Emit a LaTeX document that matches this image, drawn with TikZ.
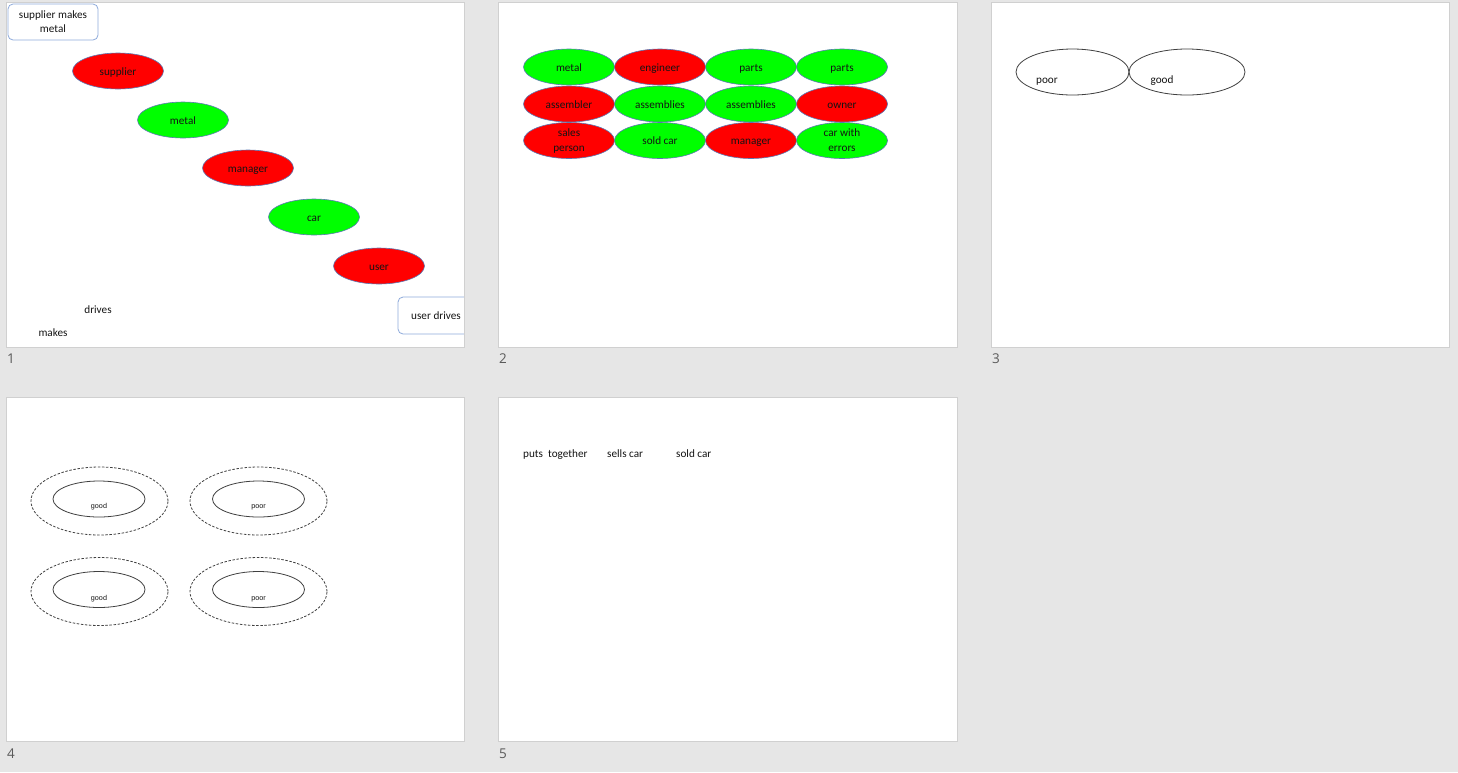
\documentclass[tikz,border=0pt]{standalone}
\usepackage{fontspec}
\setmainfont{Carlito}
\newfontfamily\arialfont{Liberation Sans}
\newfontfamily\numfont{Open Sans}
\usetikzlibrary{shapes.geometric}
\definecolor{bggray}{HTML}{E6E6E6}
\definecolor{slideedge}{HTML}{D0D0D0}
\definecolor{ellborder}{HTML}{5A78B4}
\definecolor{boxborder}{HTML}{8EAADB}
\definecolor{pptred}{HTML}{FF0000}
\definecolor{pptgreen}{HTML}{00FF00}
\definecolor{txtdark}{HTML}{141414}
\definecolor{numgray}{HTML}{5A5A5A}
\definecolor{lineg}{HTML}{404040}
\tikzset{
  slide/.style={draw=slideedge, line width=0.8pt, fill=white},
  oneline/.style={text height=10pt, text depth=1.2pt},
  ovl/.style={ellipse, draw=ellborder, line width=0.6pt, minimum width=91pt, minimum height=36pt, inner sep=0pt, font=\fontsize{11.2}{14.5}\selectfont, text=txtdark, align=center},
  redov/.style={ovl, fill=pptred},
  greenov/.style={ovl, fill=pptgreen},
  rbox/.style={draw=boxborder, line width=0.8pt, rounded corners=5pt, fill=white, inner sep=0pt, font=\fontsize{11.2}{14.5}\selectfont, text=txtdark, align=center},
  txt/.style={inner sep=0pt, font=\fontsize{11.2}{13}\selectfont, text=txtdark, oneline},
  snum/.style={inner sep=0pt, font=\numfont\fontsize{13.5}{14}\selectfont, text=numgray, anchor=west, text height=10pt, text depth=0pt},
  plainov/.style={ellipse, draw=lineg, line width=0.8pt, inner sep=0pt},
  dashov/.style={ellipse, draw=lineg, line width=0.8pt, inner sep=0pt, dash pattern=on 2.5pt off 1.6pt},
  smalltxt/.style={inner sep=0pt, font=\arialfont\fontsize{7.2}{8}\selectfont, text=txtdark, text height=8pt, text depth=0.4pt},
}
\begin{document}
\begin{tikzpicture}[x=1pt, y=-1pt]
\fill[bggray] (0,0) rectangle (1458,772);
\useasboundingbox (0,0) rectangle (1458,772);
% slides
\draw[slide] (6,2) rectangle (464,347);
\draw[slide] (498,2) rectangle (957,347);
\draw[slide] (991,2) rectangle (1449,347);
\draw[slide] (6,397) rectangle (464,741);
\draw[slide] (498,397) rectangle (957,741);
% slide numbers
\node[snum] (n1) at (7,358.5) {1};
\node[snum] (n2) at (499,358.5) {2};
\node[snum] (n3) at (992,358.5) {3};
\node[snum] (n4) at (7,753.5) {4};
\node[snum] (n5) at (499,753.5) {5};
% ---------- slide 1
\node[rbox, minimum width=90pt, minimum height=36pt, text depth=1pt] (s1box) at (53,22) {supplier makes\\metal};
\node[redov, oneline] (s1supplier) at (118,71) {supplier};
\node[greenov, oneline] (s1metal) at (183,120) {metal};
\node[redov, oneline] (s1manager) at (248,168) {manager};
\node[greenov, oneline] (s1car) at (314,217) {car};
\node[redov, oneline] (s1user) at (379,266) {user};
\node[txt] (s1drives) at (98,309) {drives};
\node[txt] (s1makes) at (53,332) {makes};
\begin{scope}
\clip (6,2) rectangle (464,347);
\node[rbox, oneline, minimum width=76pt, minimum height=37pt] (s1userbox) at (436,315.5) {user drives};
\end{scope}
\draw[slideedge, line width=0.8pt] (464,2) -- (464,347);
% ---------- slide 2
\node[greenov, oneline] (a1) at (569,67) {metal};
\node[redov, oneline] (a2) at (660,67) {engineer};
\node[greenov, oneline] (a3) at (751,67) {parts};
\node[greenov, oneline] (a4) at (842,67) {parts};
\node[redov, oneline] (b1) at (569,104) {assembler};
\node[greenov, oneline] (b2) at (660,104) {assemblies};
\node[greenov, oneline] (b3) at (751,104) {assemblies};
\node[redov, oneline] (b4) at (842,104) {owner};
\node[redov, text depth=1pt] (c1) at (569,140.5) {sales\\person};
\node[greenov, oneline] (c2) at (660,140.5) {sold car};
\node[redov, oneline] (c3) at (751,140.5) {manager};
\node[greenov, text depth=1pt] (c4) at (842,140.5) {car with\\errors};
% ---------- slide 3
\node[plainov, minimum width=113pt, minimum height=46pt] (s3poor) at (1072.5,72) {};
\node[plainov, minimum width=116pt, minimum height=46pt] (s3good) at (1187,72) {};
\node[txt] (s3poort) at (1047,79) {poor};
\node[txt] (s3goodt) at (1162,79) {good};
% ---------- slide 4
\node[dashov, minimum width=137pt, minimum height=68pt] (o1) at (99.5,501) {};
\node[plainov, minimum width=92pt, minimum height=36pt] (i1) at (99,499) {};
\node[smalltxt] (t1) at (99,505) {good};
\node[dashov, minimum width=137pt, minimum height=68pt] (o2) at (258.5,501) {};
\node[plainov, minimum width=92pt, minimum height=36pt] (i2) at (258.5,499) {};
\node[smalltxt] (t2) at (258.5,505) {poor};
\node[dashov, minimum width=137pt, minimum height=68pt] (o3) at (99.5,591.5) {};
\node[plainov, minimum width=92pt, minimum height=36pt] (i3) at (99,589.5) {};
\node[smalltxt] (t3) at (99,597) {good};
\node[dashov, minimum width=137pt, minimum height=68pt] (o4) at (258.5,591.5) {};
\node[plainov, minimum width=92pt, minimum height=36pt] (i4) at (258.5,589.5) {};
\node[smalltxt] (t4) at (258.5,597) {poor};
% ---------- slide 5
\node[txt, anchor=west] (s5a) at (523,453) {puts\ \ together};
\node[txt, anchor=west] (s5b) at (607,453) {sells car};
\node[txt, anchor=west] (s5c) at (676,453) {sold car};
\end{tikzpicture}
\end{document}
